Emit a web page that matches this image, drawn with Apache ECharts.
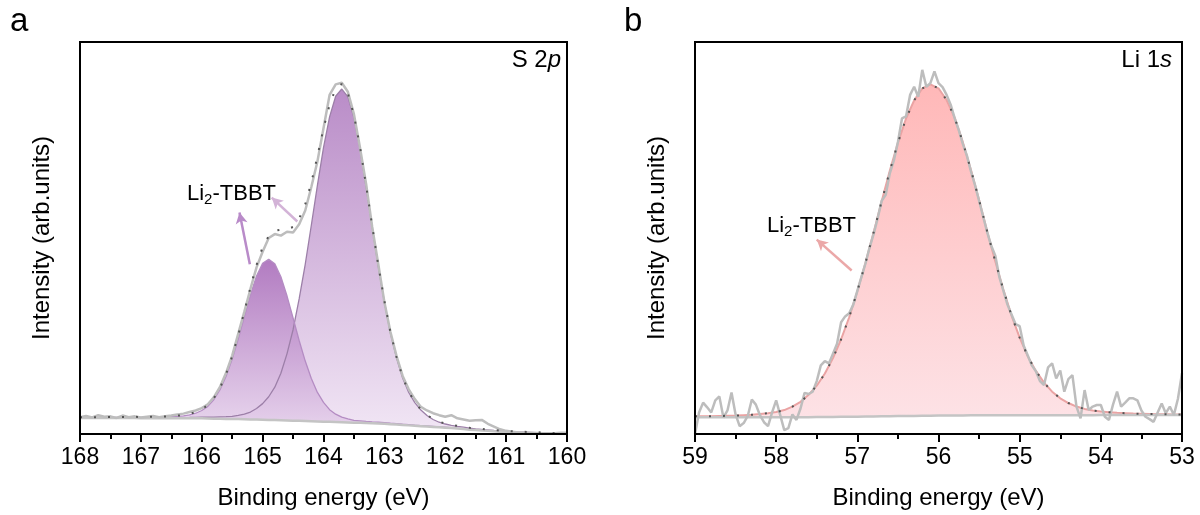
<!DOCTYPE html>
<html>
<head>
<meta charset="utf-8">
<title>XPS S 2p / Li 1s</title>
<script src="https://cdn.jsdelivr.net/npm/echarts@6.0.0/dist/echarts.min.js"></script>
<style>
  html, body { margin: 0; padding: 0; background: #fff; }
  #chart { width: 1200px; height: 515px; }
</style>
</head>
<body>
<div id="chart"></div>
<script>
// panel a, S 2p: 168 -> 160 eV, one value every 0.1 eV
const rawA = [
  4.3, 4.6, 4.2, 4.8, 4.4, 4.5, 4.1, 4.7, 4.3, 4.5, 4.2, 4.4, 4.6, 4.3, 4.5, 4.7, 5.0,
  5.2, 5.6, 6.0, 6.6, 7.6, 9.4, 12.0, 15.6, 20.0, 25.6, 31.2, 37.0,
  42.5, 46.5, 50.0, 51.0, 50.6, 51.6, 51.4, 53.5, 57.0, 63.0, 69.5, 78.0, 86.5, 89.2, 89.6,
  87.3, 81.6, 73.0, 63.8, 52.8, 43.3, 33.7, 26.0, 19.9, 14.8, 11.4, 8.9,
  6.9, 6.0, 5.3, 4.8, 4.4, 4.8, 4.0, 3.7, 3.4, 3.5, 3.6, 2.6, 1.9, 1.2,
  0.8, 0.6, 0.4, 0.3, 0.2, 0.0, 0.1, 0.2, 0.2, 0.3, 0.3
]
const baseA = [
  4.1, 4.1, 4.1, 4.1, 4.1, 4.1, 4.1, 4.1, 4.1, 4.1,
  4.0, 4.0, 4.0, 4.0, 4.0, 4.0, 4.0, 4.0, 4.0, 4.0,
  4.0, 3.95, 3.9, 3.9, 3.85, 3.8, 3.8, 3.75, 3.7, 3.7,
  3.65, 3.6, 3.55, 3.5, 3.45, 3.4, 3.35, 3.3, 3.25, 3.2,
  3.15, 3.1, 3.05, 3.0, 2.95, 2.9, 2.85, 2.8, 2.75, 2.7,
  2.6, 2.5, 2.4, 2.3, 2.2, 2.1, 2.0, 1.9, 1.8, 1.7,
  1.6, 1.5, 1.4, 1.3, 1.1, 1.0, 0.9, 0.8, 0.7, 0.6,
  0.5, 0.45, 0.4, 0.35, 0.3, 0.25, 0.2, 0.1, 0.05, 0, 0
]
// component at 163.7 eV (height above background)
const peakA1 = [
  0.06, 0.07, 0.07, 0.07, 0.08, 0.08, 0.09, 0.09, 0.1, 0.1,
  0.11, 0.12, 0.13, 0.14, 0.15, 0.16, 0.18, 0.2, 0.22, 0.25,
  0.28, 0.32, 0.38, 0.45, 0.56, 0.72, 0.95, 1.3, 1.9, 2.8,
  4.1, 5.9, 8.4, 12.0, 17.0, 23.2, 31.1, 40.0, 50.0, 60.2,
  69.9, 77.8, 83.1, 85.0, 83.1, 77.8, 69.9, 60.2, 50.0, 40.0,
  31.1, 23.2, 17.0, 12.0, 8.4, 5.9, 4.1, 2.8, 1.9, 1.3,
  0.95, 0.72, 0.56, 0.45, 0.38, 0.32, 0.28, 0.25, 0.22, 0.2,
  0.18, 0.16, 0.15, 0.14, 0.13, 0.12, 0.11, 0.1, 0.1, 0.09, 0.09
]
// component at 164.9 eV
const peakA2 = [
  0.1, 0.11, 0.12, 0.13, 0.14, 0.15, 0.16, 0.17, 0.19, 0.2,
  0.22, 0.24, 0.27, 0.3, 0.33, 0.4, 0.5, 0.6, 0.9, 1.3,
  2.0, 3.1, 4.9, 7.4, 10.9, 15.3, 20.5, 26.2, 31.8, 36.6,
  39.9, 41.0, 39.9, 36.6, 31.8, 26.2, 20.5, 15.3, 10.9, 7.4,
  4.9, 3.1, 2.0, 1.3, 0.9, 0.6, 0.5, 0.4, 0.33, 0.3,
  0.27, 0.24, 0.22, 0.2, 0.19, 0.17, 0.16, 0.15, 0.14, 0.13,
  0.12, 0.11, 0.1, 0.1, 0.09, 0.09, 0.09, 0.08, 0.08, 0.08,
  0.08, 0.07, 0.07, 0.07, 0.07, 0.07, 0.06, 0.06, 0.06, 0.06, 0.06
]

// panel b, Li 1s: raw every 0.05 eV from 59, fit every 0.1 eV from 59
const rawB = [
  0.0, 5.5, 8.0, 6.8, 5.5, 8.6, 9.6, 4.2, 6.0, 10.6,
  5.0, 2.0, 2.8, 4.6, 8.8, 7.5, 4.8, 3.0, 2.0, 5.5,
  8.6, 4.8, 1.0, 1.5, 5.0, 3.6, 6.5, 10.5, 10.2, 10.8,
  13.5, 17.5, 18.6, 18.0, 20.5, 23.0, 28.5, 30.0, 30.8, 33.0,
  36.5, 40.0, 43.5, 47.5, 51.0, 55.0, 59.5, 61.0, 66.5, 69.8,
  74.5, 80.5, 81.0, 86.5, 88.6, 86.0, 92.9, 88.6, 89.5, 92.5,
  89.5, 88.5, 86.5, 84.0, 80.5, 77.5, 74.0, 71.0, 67.0, 63.5,
  59.5, 55.5, 51.5, 48.0, 45.5, 40.0, 36.5, 33.0, 30.5, 28.0,
  27.5, 22.5, 20.0, 17.5, 16.0, 13.5, 12.5, 17.0, 18.0, 14.2,
  16.2, 10.8, 14.0, 15.0, 7.0, 4.0, 11.2, 6.1, 7.0, 7.4,
  7.4, 4.4, 3.6, 7.5, 10.8, 7.0, 8.0, 9.1, 9.1, 8.6,
  6.0, 4.4, 3.8, 3.1, 5.5, 7.8, 5.3, 7.0, 4.85, 9.0,
  15.5
]
const baseB = [
  4.3, 4.3, 4.3, 4.3, 4.3, 4.3, 4.3, 4.3, 4.3, 4.3, 4.3, 4.3, 4.3, 4.3, 4.3,
  4.32, 4.33, 4.35, 4.37, 4.39, 4.41, 4.44, 4.47, 4.5, 4.53, 4.56, 4.59, 4.62,
  4.65, 4.67, 4.69, 4.71, 4.73, 4.75, 4.76, 4.77, 4.78, 4.79, 4.8,
  4.8, 4.8, 4.8, 4.8, 4.8, 4.8, 4.8, 4.8, 4.8, 4.8, 4.8,
  4.85, 4.85, 4.85, 4.85, 4.85, 4.85, 4.85, 4.85, 4.85, 4.85, 4.85
]
const peakB = [
  0.2, 0.2, 0.25, 0.3, 0.35, 0.4, 0.5, 0.6, 0.8, 1.0,
  1.3, 1.8, 2.7, 3.9, 5.7, 8.0, 11.1, 15.0, 19.8, 25.4,
  32.0, 39.2, 46.9, 54.9, 62.6, 69.7, 75.9, 80.5, 83.5, 84.5,
  83.5, 80.5, 75.9, 69.7, 62.6, 54.9, 46.9, 39.2, 32.0, 25.4,
  19.8, 15.0, 11.3, 8.3, 6.0, 4.3, 3.1, 2.2, 1.6, 1.2,
  0.9, 0.7, 0.55, 0.45, 0.35, 0.3, 0.25, 0.2, 0.2, 0.15, 0.15
]

// arrows, in data units [from, to]
const arrowsA = [
  { from: [165.21, 43.3], to: [165.38, 56.5], color: '#b98bc9' },
  { from: [164.43, 54.2], to: [164.85, 60.3], color: '#d3b3d7' }
]
const arrowsB = [
  { from: [57.07, 41.7], to: [57.5, 49.6], color: '#eba8a8' }
]

const FONT = '"Liberation Sans", Arial, Helvetica, sans-serif'
const energies = (start, step, n) => Array.from({ length: n }, (_, i) => +(start - step * i).toFixed(2))
const pairs = (xs, ys) => xs.map((x, i) => [x, ys[i]])
const add = (...arrs) => arrs[0].map((_, i) => arrs.reduce((s, a) => s + a[i], 0))

const eA = energies(168, 0.1, rawA.length)
const eB = energies(59, 0.1, baseB.length)
const eBraw = energies(59, 0.05, rawB.length)

const grad = (top, bottom) => new echarts.graphic.LinearGradient(0, 0, 0, 1, [
  { offset: 0, color: top },
  { offset: 1, color: bottom }
])

function arrowLines(list) {
  return {
    silent: true,
    animation: false,
    symbol: ['none', 'arrow'],
    symbolSize: [9, 11],
    label: { show: false },
    emphasis: { disabled: true },
    data: list.map((a) => [
      { coord: a.from, lineStyle: { color: a.color, width: 2.5, type: 'solid' }, itemStyle: { color: a.color } },
      { coord: a.to }
    ])
  }
}

function xAxis(gridIndex, min, max) {
  return {
    type: 'value', gridIndex, min, max, interval: 1, inverse: true, z: 10,
    axisLine: { show: true, onZero: false, lineStyle: { color: '#000', width: 2 } },
    axisTick: { show: true, length: 8, lineStyle: { color: '#000', width: 2 } },
    minorTick: { show: true, splitNumber: 2, length: 5, lineStyle: { color: '#000', width: 2 } },
    splitLine: { show: false },
    axisLabel: { fontSize: 23, color: '#000', margin: 12, fontFamily: FONT },
    name: 'Binding energy (eV)',
    nameLocation: 'middle',
    nameGap: 52,
    nameTextStyle: { fontSize: 24, color: '#000', fontFamily: FONT }
  }
}

function yAxis(gridIndex) {
  return {
    type: 'value', gridIndex, min: 0, max: 100, z: 10,
    axisLine: { show: true, lineStyle: { color: '#000', width: 2 } },
    axisTick: { show: false },
    axisLabel: { show: false },
    splitLine: { show: false },
    name: 'Intensity (arb.units)',
    nameLocation: 'middle',
    nameGap: 26,
    nameTextStyle: { fontSize: 24, color: '#000', fontFamily: FONT }
  }
}

const line = (idx, data, extra) => Object.assign({
  type: 'line', xAxisIndex: idx, yAxisIndex: idx, data,
  symbol: 'none', showSymbol: false, silent: true, animation: false
}, extra)

const envA = add(baseA, peakA1, peakA2)
const envB = add(baseB, peakB)

const series = [
  // panel a
  line(0, pairs(eA, add(baseA, peakA1)), {
    z: 1, lineStyle: { color: '#9c7fa8', width: 1.3 },
    areaStyle: { origin: 'start', opacity: 0.85, color: grad('#ad78be', '#efe2f3') }
  }),
  line(0, pairs(eA, add(baseA, peakA2)), {
    z: 1, lineStyle: { color: '#b48cc3', width: 1.3 },
    areaStyle: { origin: 'start', opacity: 0.85, color: grad('#a464b6', '#e6d2ec') }
  }),
  line(0, pairs(eA, baseA), {
    z: 2, lineStyle: { width: 0, opacity: 0 },
    areaStyle: { origin: 'start', color: '#fff', opacity: 1 }
  }),
  line(0, pairs(eA, baseA), { z: 3, lineStyle: { color: '#c4c4c4', width: 2.5 } }),
  line(0, pairs(eA, rawA), { z: 3, lineStyle: { color: '#bdbdbd', width: 2.5 }, markLine: arrowLines(arrowsA) }),
  line(0, pairs(eA, envA), { z: 4, lineStyle: { color: '#555', width: 2, type: [2, 12] } }),
  // panel b
  line(1, pairs(eB, envB), {
    z: 1, lineStyle: { color: '#eaa3a3', width: 2 },
    areaStyle: { origin: 'start', opacity: 1, color: grad('#ffb8b8', '#fde4e8') }
  }),
  line(1, pairs(eB, baseB), {
    z: 2, lineStyle: { width: 0, opacity: 0 },
    areaStyle: { origin: 'start', color: '#fff', opacity: 1 }
  }),
  line(1, pairs(eB, baseB), { z: 3, lineStyle: { color: '#c4c4c4', width: 2.5 } }),
  line(1, pairs(eBraw, rawB), { z: 3, lineStyle: { color: '#bdbdbd', width: 2.5 }, markLine: arrowLines(arrowsB) }),
  line(1, pairs(eB, envB), { z: 4, lineStyle: { color: '#555', width: 2, type: [2, 12] } })
]

const richLabel = {
  n: { fontSize: 22, lineHeight: 26, fontFamily: FONT, color: '#000' },
  s: { fontSize: 15, lineHeight: 12, verticalAlign: 'bottom', fontFamily: FONT, color: '#000' },
  i: { fontSize: 24, lineHeight: 28, fontStyle: 'italic', fontFamily: FONT, color: '#000' },
  t: { fontSize: 24, lineHeight: 28, fontFamily: FONT, color: '#000' }
}
const text = (x, y, str, align, size) => ({
  type: 'text', x, y, silent: true, z: 20,
  style: {
    text: str, fill: '#000', font: (size || 24) + 'px ' + FONT,
    align: align || 'left', verticalAlign: 'middle',
    textAlign: align || 'left', textVerticalAlign: 'middle',
    rich: richLabel
  }
})

const chart = echarts.init(document.getElementById('chart'), null, { renderer: 'canvas' })
chart.setOption({
  backgroundColor: '#fff',
  animation: false,
  grid: [
    { left: 80, top: 42, width: 487, height: 393, show: true, borderColor: '#000', borderWidth: 2, z: 10, backgroundColor: 'transparent' },
    { left: 695, top: 42, width: 487, height: 393, show: true, borderColor: '#000', borderWidth: 2, z: 10, backgroundColor: 'transparent' }
  ],
  xAxis: [xAxis(0, 160, 168), xAxis(1, 53, 59)],
  yAxis: [yAxis(0), yAxis(1)],
  series,
  graphic: [
    text(10, 22, 'a', 'left', 33),
    text(624, 22, 'b', 'left', 33),
    text(561, 60, '{t|S 2}{i|p}', 'right'),
    text(1172, 60, '{t|Li 1}{i|s}', 'right'),
    text(187, 194, '{n|Li}{s|2}{n|-TBBT}', 'left', 22),
    text(767, 226, '{n|Li}{s|2}{n|-TBBT}', 'left', 22)
  ]
})
</script>
</body>
</html>
